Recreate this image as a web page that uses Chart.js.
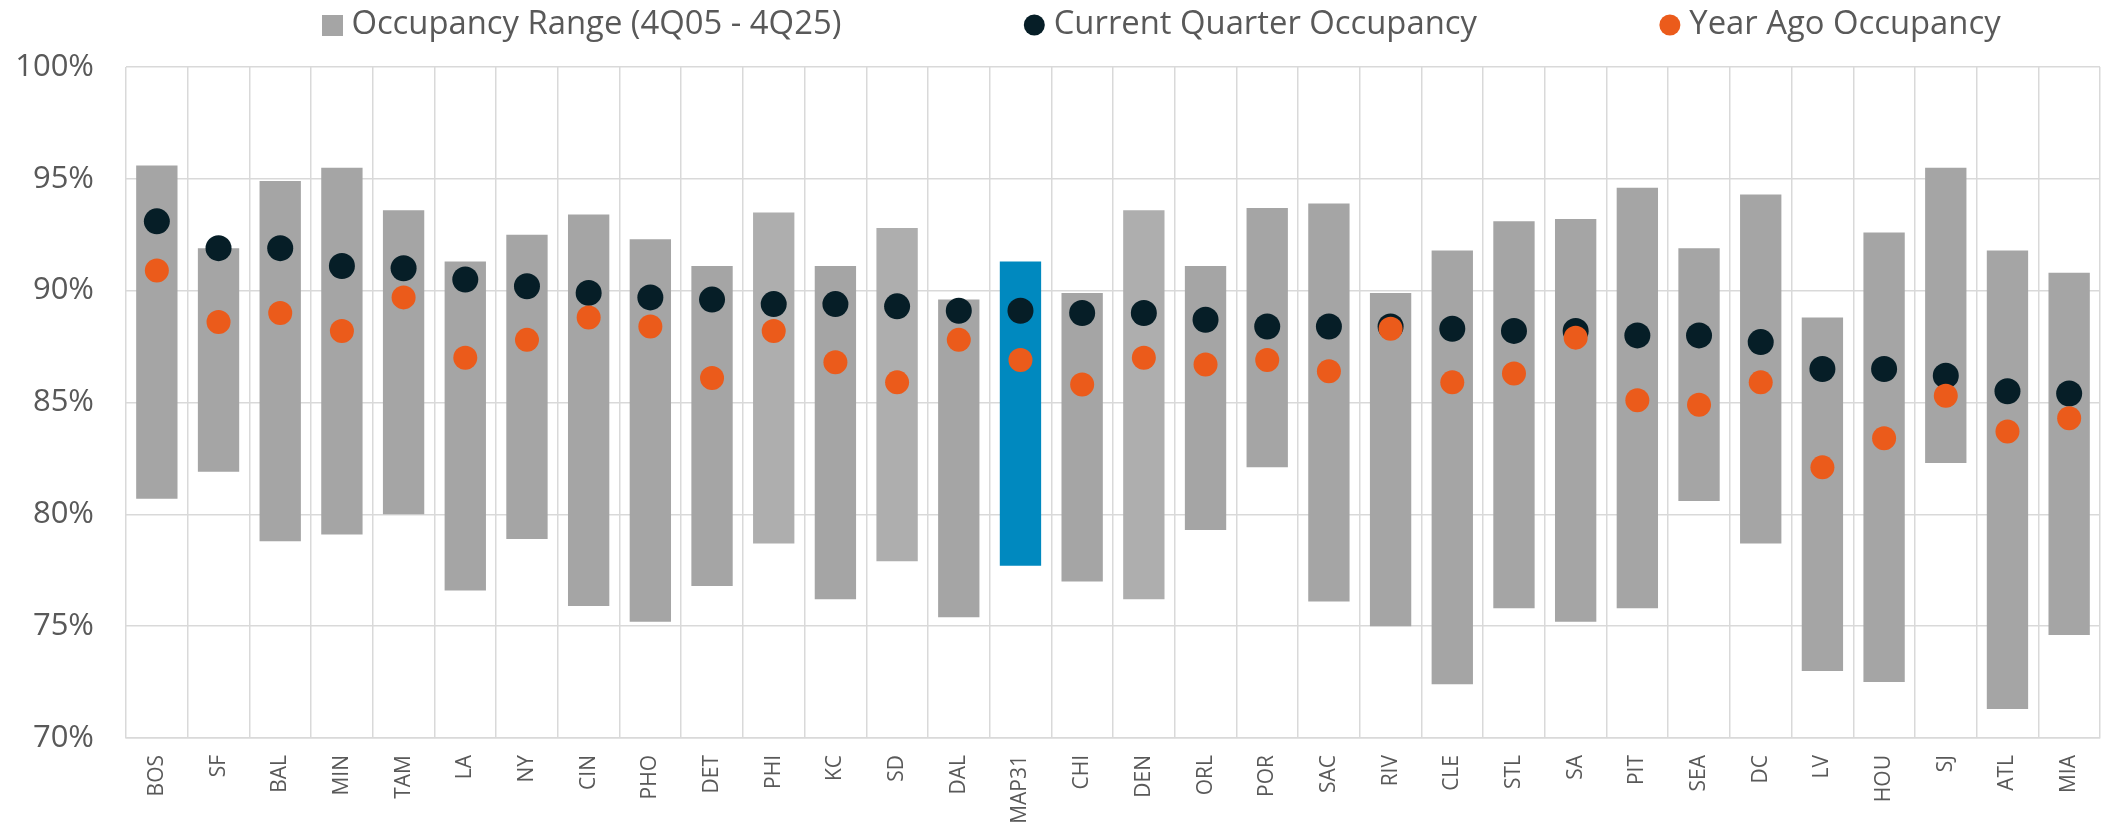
<!DOCTYPE html>
<html>
<head>
<meta charset="utf-8">
<title>Occupancy by Market</title>
<script src="https://cdn.jsdelivr.net/npm/chart.js@4/dist/chart.umd.min.js"></script>
<style>
  body { margin: 0; background: #ffffff; }
  canvas { display: block; }
</style>
</head>
<body>
<canvas id="chart" width="2113" height="823"></canvas>
<script>
// Markets, left to right
const markets = ['BOS', 'SF', 'BAL', 'MIN', 'TAM', 'LA', 'NY', 'CIN', 'PHO', 'DET', 'PHI', 'KC', 'SD', 'DAL', 'MAP31', 'CHI',
  'DEN', 'ORL', 'POR', 'SAC', 'RIV', 'CLE', 'STL', 'SA', 'PIT', 'SEA', 'DC', 'LV', 'HOU', 'SJ', 'ATL', 'MIA'];

// Occupancy range 4Q05 - 4Q25 (%)
const rangeHigh = [95.6, 91.9, 94.9, 95.5, 93.6, 91.3, 92.5, 93.4, 92.3, 91.1, 93.5, 91.1, 92.8, 89.6, 91.3, 89.9,
  93.6, 91.1, 93.7, 93.9, 89.9, 91.8, 93.1, 93.2, 94.6, 91.9, 94.3, 88.8, 92.6, 95.5, 91.8, 90.8];
const rangeLow = [80.7, 81.9, 78.8, 79.1, 80.0, 76.6, 78.9, 75.9, 75.2, 76.8, 78.7, 76.2, 77.9, 75.4, 77.7, 77.0,
  76.2, 79.3, 82.1, 76.1, 75.0, 72.4, 75.8, 75.2, 75.8, 80.6, 78.7, 73.0, 72.5, 82.3, 71.3, 74.6];

// Current quarter and year ago occupancy (%)
const currentQuarter = [93.1, 91.9, 91.9, 91.1, 91.0, 90.5, 90.2, 89.9, 89.7, 89.6, 89.4, 89.4, 89.3, 89.1, 89.1, 89.0,
  89.0, 88.7, 88.4, 88.4, 88.4, 88.3, 88.2, 88.2, 88.0, 88.0, 87.7, 86.5, 86.5, 86.2, 85.5, 85.4];
const yearAgo = [90.9, 88.6, 89.0, 88.2, 89.7, 87.0, 87.8, 88.8, 88.4, 86.1, 88.2, 86.8, 85.9, 87.8, 86.9, 85.8,
  87.0, 86.7, 86.9, 86.4, 88.3, 85.9, 86.3, 87.9, 85.1, 84.9, 85.9, 82.1, 83.4, 85.3, 83.7, 84.3];

const yTicks = [70, 75, 80, 85, 90, 95, 100];

const GREY = '#A5A5A5';
const LIGHT_GREY = '#AEAEAE';
const BLUE = '#0089BF';
const NAVY = '#061E27';
const ORANGE = '#EB5B1B';
const TEXT = '#595959';
const GRID = '#D9D9D9';
const FONT = "'Open Sans', sans-serif";

const lighterBars = ['PHI', 'SD', 'DEN'];
const barColors = markets.map(m => m === 'MAP31' ? BLUE : (lighterBars.includes(m) ? LIGHT_GREY : GREY));

// grey square used as the legend marker of the range series
const legendSquare = document.createElement('canvas');
legendSquare.width = 21;
legendSquare.height = 21;
const sq = legendSquare.getContext('2d');
sq.fillStyle = GREY;
sq.fillRect(0, 0, 21, 21);

const LEGEND_PAD = 190;
const LEGEND_FONT = 32.8;

// keeps room above the plot and places the legend row like the original
const legendPlacement = {
  id: 'legendPlacement',
  beforeInit(chart) {
    const fit = chart.legend.fit;
    chart.legend.fit = function () {
      fit.call(this);
      this.height = 67;
    };
  },
  afterLayout(chart) {
    const lg = chart.legend;
    lg.left = 329 - LEGEND_PAD;
    lg.right = 3000;
    lg.top = 25 - LEGEND_PAD - LEGEND_FONT / 2;
  }
};

const ctx = document.getElementById('chart').getContext('2d');
new Chart(ctx, {
  data: {
    labels: markets,
    datasets: [
      {
        type: 'bar',
        label: 'Occupancy Range (4Q05 - 4Q25)',
        data: markets.map((m, i) => [rangeLow[i], rangeHigh[i]]),
        backgroundColor: barColors,
        borderWidth: 0,
        barPercentage: 0.67,
        categoryPercentage: 1,
        order: 3
      },
      {
        type: 'line',
        label: 'Current Quarter Occupancy',
        data: currentQuarter,
        showLine: false,
        backgroundColor: NAVY,
        borderColor: NAVY,
        pointBackgroundColor: NAVY,
        pointBorderWidth: 0,
        pointRadius: 13,
        pointHoverRadius: 13,
        order: 2
      },
      {
        type: 'line',
        label: 'Year Ago Occupancy',
        data: yearAgo,
        showLine: false,
        backgroundColor: ORANGE,
        borderColor: ORANGE,
        pointBackgroundColor: ORANGE,
        pointBorderWidth: 0,
        pointRadius: 12,
        pointHoverRadius: 12,
        order: 1
      }
    ]
  },
  options: {
    responsive: false,
    animation: false,
    layout: { padding: { left: 0, right: 3, top: 0, bottom: 0 } },
    plugins: {
      tooltip: { enabled: false },
      legend: {
        position: 'top',
        align: 'start',
        labels: {
          color: TEXT,
          font: { family: FONT, size: LEGEND_FONT },
          usePointStyle: true,
          boxWidth: 6,
          boxHeight: 14.85,
          padding: LEGEND_PAD,
          generateLabels(chart) {
            const items = Chart.defaults.plugins.legend.labels.generateLabels(chart);
            items.sort((a, b) => a.datasetIndex - b.datasetIndex);
            items.forEach(it => {
              if (it.datasetIndex === 0) {
                it.pointStyle = legendSquare;
                it.fillStyle = GREY;
              } else {
                it.pointStyle = 'circle';
              }
              it.lineWidth = 0;
            });
            return items;
          }
        }
      }
    },
    scales: {
      x: {
        offset: true,
        grid: { color: GRID, lineWidth: 1.5, offset: true, drawTicks: false },
        border: { color: GRID, width: 1.5 },
        ticks: {
          color: TEXT,
          font: { family: FONT, size: 21 },
          minRotation: 90,
          maxRotation: 90,
          autoSkip: false,
          padding: 17
        },
        afterFit(scale) { scale.height = 85; }
      },
      y: {
        min: 70,
        max: 100,
        grid: { color: GRID, lineWidth: 1.5, drawTicks: false },
        border: { display: false },
        afterBuildTicks(scale) { scale.ticks = yTicks.map(v => ({ value: v })); },
        ticks: {
          color: TEXT,
          font: { family: FONT, size: 31 },
          padding: 32,
          callback: v => v + '%'
        },
        afterFit(scale) { scale.width = 126; }
      }
    }
  },
  plugins: [legendPlacement]
});
</script>
</body>
</html>
